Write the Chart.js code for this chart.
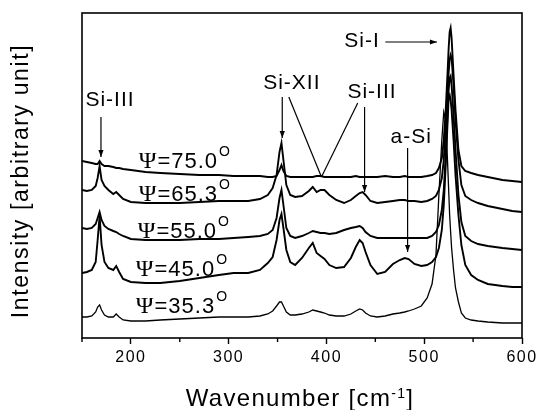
<!DOCTYPE html>
<html><head><meta charset="utf-8">
<script src="https://cdn.jsdelivr.net/npm/chart.js@4.4.1/dist/chart.umd.min.js"></script>
<style>html,body{margin:0;padding:0;background:#fff;}</style>
</head><body>
<canvas id="c" width="537" height="410"></canvas>
<script>
// ---- data (wavenumber in cm^-1, intensity in arbitrary units) ----
const wavenumber = [150,155,160,164,166,168,170,173,177,182,185,188,192,200,215,230,250,270,290,305,320,332,340,345,349,352,354,356,359,363,368,375,382,386,390,394,398,403,410,418,425,430,434,437,440,445,452,460,468,475,480,484,490,497,503,508,512,515,518,520,522,524,525,526,527,528,530,532,535,538,542,548,555,565,580,590,600];
const psi750 = [177,176,175,174,174,177,174,172,172,171,170,170,169,168,166,165,164,163,163,162,162,162,161,161,162,168,173,167,162,161,161,161,161,161,162,162,161,161,161,161,161,162,161,161,161,161,161,162,161,161,162,161,161,161,162,163,165,170,180,198,228,268,290,306,310,300,263,228,188,172,167,165,163,161,158,157,156];
const psi653 = [148,147,148,152,160,172,158,152,148,144,146,143,139,136,135,135,135,136,137,137,137,139,143,150,163,186,195,178,153,143,141,142,147,151,146,148,148,143,138,135,138,142,145,146,143,137,135,136,137,138,138,137,137,136,137,139,142,148,160,178,210,248,266,278,283,280,253,218,178,153,142,138,135,132,129,127,126];
const psi550 = [110,109,110,114,120,126,118,112,109,107,106,104,102,99,98,98,98,99,99,100,101,102,104,108,120,140,148,133,110,102,100,102,105,107,106,105,105,104,105,108,110,111,112,110,106,102,100,100,100,100,100,100,100,100,100,102,106,113,128,148,183,228,248,260,262,253,223,188,143,116,102,97,94,92,90,89,88];
const psi450 = [65,66,68,76,98,122,93,76,70,68,72,66,59,56,55,55,57,60,63,65,65,68,75,81,98,118,124,110,88,76,73,80,90,95,85,82,79,73,70,71,80,91,98,95,86,73,64,66,74,78,80,79,74,72,73,76,81,90,108,133,173,218,241,243,238,228,198,163,123,93,73,63,58,54,52,51,51];
const psi353 = [21,21,22,26,31,33,28,23,21,21,24,21,18,17,17,18,19,20,21,21,21,22,24,27,32,36,36,32,26,23,23,24,26,28,27,26,25,23,22,22,24,27,29,28,25,22,21,22,24,25,26,27,29,32,40,54,83,143,198,226,218,173,148,123,106,90,68,50,36,25,20,18,17,16,15,15,15];
const xTickValues = [200,300,400,500,600];
const xMinorTicks = [150,250,350,450,550];
const psiNames = ['75.0','65.3','55.0','45.0','35.3'];

// ---- annotations (in data units) ----
const psiLabelX = [208,208,207,205,205];
const psiLabelY = [178,145,108,70,33];
const annoText = ['Si-III','Si-XII','Si-III','a-Si','Si-I'];
const annoX = [178.6,364.6,446.6,486.7,436.4];
const annoY = [238,255,246,201,297];
const arrowX1 = [169.4,354.8,439,483,460.2];
const arrowY1 = [221,241,231,190,296];
const arrowX2 = [169.4,354.8,439,483,513];
const arrowY2 = [181,200,146,86,296];
const lineX1 = [361.5,432], lineY1 = [241,235], lineX2 = [394.9,394.9], lineY2 = [161,161];

const series = [psi750, psi653, psi550, psi450, psi353];
const datasets = series.map((s, k) => ({
  label: 'Ψ=' + psiNames[k],
  data: wavenumber.map((w, i) => ({x: w, y: s[i]})),
  borderColor: '#000',
  borderWidth: k === 4 ? 1.3 : 1.9,
  pointRadius: 0,
  tension: 0,
  fill: false
}));

function arrowHead(ctx, x1, y1, x2, y2) {
  const ang = Math.atan2(y2 - y1, x2 - x1), L = 7, H = 2.6;
  ctx.beginPath();
  ctx.moveTo(x2, y2);
  ctx.lineTo(x2 - L * Math.cos(ang) + H * Math.sin(ang), y2 - L * Math.sin(ang) - H * Math.cos(ang));
  ctx.lineTo(x2 - L * Math.cos(ang) - H * Math.sin(ang), y2 - L * Math.sin(ang) + H * Math.cos(ang));
  ctx.closePath();
  ctx.fill();
}

const deco = {
  id: 'deco',
  beforeDraw(chart) { chart.ctx.letterSpacing = '1.5px'; },
  afterDatasetsDraw(chart) {
    const {ctx, chartArea: a, scales: {x, y}} = chart;
    ctx.save();
    ctx.strokeStyle = '#000'; ctx.fillStyle = '#000';
    // frame
    ctx.lineWidth = 1.6;
    ctx.strokeRect(a.left, a.top, a.right - a.left, a.bottom - a.top);
    // minor ticks
    ctx.lineWidth = 1.4;
    xMinorTicks.forEach(v => {
      const px = x.getPixelForValue(v);
      ctx.beginPath(); ctx.moveTo(px, a.bottom); ctx.lineTo(px, a.bottom + 4); ctx.stroke();
    });
    // arrows
    ctx.lineWidth = 1.2;
    for (let i = 0; i < arrowX1.length; i++) {
      const x1 = x.getPixelForValue(arrowX1[i]), y1 = y.getPixelForValue(arrowY1[i]);
      const x2 = x.getPixelForValue(arrowX2[i]), y2 = y.getPixelForValue(arrowY2[i]);
      ctx.beginPath(); ctx.moveTo(x1, y1); ctx.lineTo(x2, y2); ctx.stroke();
      arrowHead(ctx, x1, y1, x2, y2);
    }
    for (let i = 0; i < lineX1.length; i++) {
      ctx.beginPath();
      ctx.moveTo(x.getPixelForValue(lineX1[i]), y.getPixelForValue(lineY1[i]));
      ctx.lineTo(x.getPixelForValue(lineX2[i]), y.getPixelForValue(lineY2[i]));
      ctx.stroke();
    }
    // annotation texts
    ctx.letterSpacing = '1px';
    ctx.font = '21px "Liberation Sans", Arial, sans-serif';
    ctx.textAlign = 'center'; ctx.textBaseline = 'middle';
    annoText.forEach((t, i) => ctx.fillText(t, x.getPixelForValue(annoX[i]), y.getPixelForValue(annoY[i])));
    // psi labels
    ctx.textAlign = 'left'; ctx.textBaseline = 'alphabetic';
    psiNames.forEach((n, i) => {
      const px = x.getPixelForValue(psiLabelX[i]), py = y.getPixelForValue(psiLabelY[i]);
      ctx.font = '24px "Liberation Serif", "Times New Roman", serif';
      ctx.fillText('Ψ', px, py + 8);
      let w = ctx.measureText('Ψ').width;
      ctx.font = '22px "Liberation Sans", Arial, sans-serif';
      const s = '=' + n;
      ctx.fillText(s, px + w, py + 8);
      w += ctx.measureText(s).width;
      ctx.font = '14px "Liberation Sans", Arial, sans-serif';
      ctx.fillText('O', px + w + 1, py - 4);
    });
    // x title with superscript
    ctx.letterSpacing = '1.3px';
    const t1 = 'Wavenumber [cm', sup = '-1', t2 = ']';
    ctx.font = '24px "Liberation Sans", Arial, sans-serif';
    const w1 = ctx.measureText(t1).width, w2 = ctx.measureText(t2).width;
    ctx.font = '14px "Liberation Sans", Arial, sans-serif';
    const ws = ctx.measureText(sup).width;
    const cx = (a.left + a.right) / 2 - 2;
    let sx = cx - (w1 + ws + w2) / 2;
    const by = 406;
    ctx.font = '24px "Liberation Sans", Arial, sans-serif';
    ctx.fillText(t1, sx, by);
    ctx.font = '14px "Liberation Sans", Arial, sans-serif';
    ctx.fillText(sup, sx + w1, by - 8);
    ctx.font = '24px "Liberation Sans", Arial, sans-serif';
    ctx.fillText(t2, sx + w1 + ws, by);
    // y title
    ctx.letterSpacing = '1.6px';
    ctx.font = '23px "Liberation Sans", Arial, sans-serif';
    ctx.translate(28.2, (a.top + a.bottom) / 2 + 5.5);
    ctx.rotate(-Math.PI / 2);
    ctx.textAlign = 'center';
    ctx.fillText('Intensity [arbitrary unit]', 0, 0);
    ctx.restore();
  }
};

new Chart(document.getElementById('c'), {
  type: 'line',
  data: {datasets},
  options: {
    responsive: false,
    animation: false,
    devicePixelRatio: 1,
    layout: {padding: {left: 82, right: 15, top: 13, bottom: 0}},
    plugins: {legend: {display: false}, tooltip: {enabled: false}},
    scales: {
      x: {
        type: 'linear', min: 150, max: 600,
        afterBuildTicks: s => { s.ticks = xTickValues.map(v => ({value: v})); },
        afterFit: s => { s.height = 72; s.paddingLeft = 0; s.paddingRight = 0; },
        ticks: {color: '#000', padding: 4, maxRotation: 0, autoSkip: false,
          font: {family: '"Liberation Sans", Arial, sans-serif', size: 16}},
        grid: {display: true, drawOnChartArea: false, drawTicks: true, tickLength: 6, tickColor: '#000', tickWidth: 1.4},
        border: {display: false}
      },
      y: {display: false, min: 0, max: 325}
    }
  },
  plugins: [deco]
});
</script>
</body></html>
